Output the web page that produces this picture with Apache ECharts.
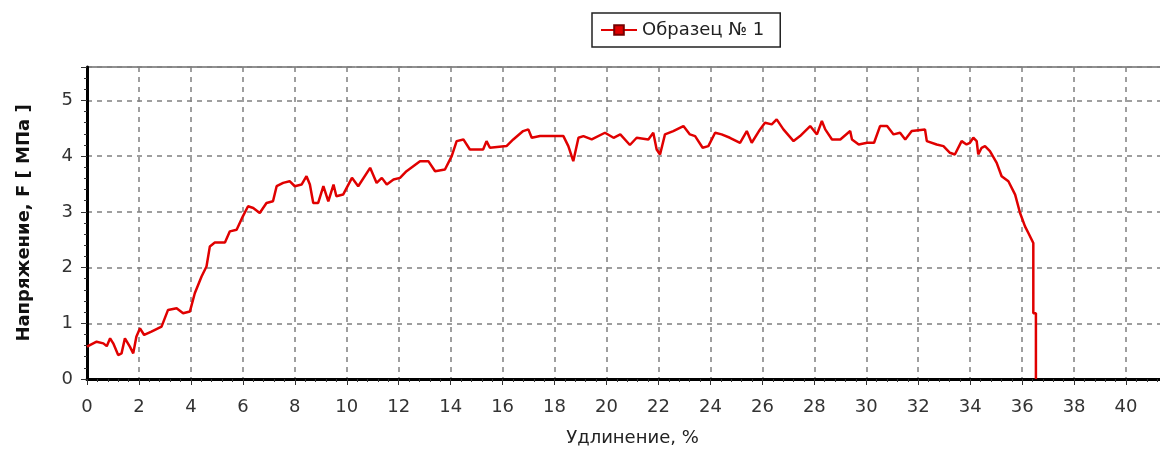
<!DOCTYPE html>
<html>
<head>
<meta charset="utf-8">
<script src="https://cdn.jsdelivr.net/npm/echarts@6/dist/echarts.min.js"></script>
<style>
  html, body { margin: 0; padding: 0; background: #fff; }
  #chart { width: 1160px; height: 461px; }
</style>
</head>
<body>
<div id="chart"></div>
<script>
// elongation, % (x) and stress, MPa (y)
const elongation = [
  0, 0.37, 0.63, 0.76, 0.89, 1.01, 1.2, 1.33, 1.46, 1.65, 1.78, 1.9, 2.04, 2.2, 2.48, 2.87,
  3.12, 3.45, 3.7, 3.96, 4.15, 4.41, 4.6, 4.73, 4.92, 5.31, 5.5, 5.76, 6.0, 6.2, 6.4, 6.65,
  6.91, 7.16, 7.3, 7.55, 7.8, 8.0, 8.26, 8.45, 8.58, 8.71, 8.9, 9.1, 9.29, 9.49, 9.6, 9.86,
  10.2, 10.44, 10.9, 11.15, 11.35, 11.54, 11.8, 12.05, 12.3, 12.56, 12.82, 13.14, 13.4, 13.78,
  14.04, 14.23, 14.49, 14.74, 15.25, 15.38, 15.51, 16.15, 16.41, 16.79, 16.99, 17.12, 17.44,
  18.34, 18.53, 18.72, 18.92, 19.11, 19.43, 19.94, 20.27, 20.53, 20.9, 21.16, 21.61, 21.8,
  21.93, 22.06, 22.25, 22.57, 22.96, 23.21, 23.41, 23.7, 23.92, 24.18, 24.43, 24.75, 25.14,
  25.4, 25.59, 25.91, 26.1, 26.36, 26.55, 26.81, 27.2, 27.45, 27.84, 28.1, 28.29, 28.42,
  28.68, 29.0, 29.38, 29.45, 29.71, 30.03, 30.3, 30.53, 30.8, 31.05, 31.3, 31.5, 31.75,
  32.26, 32.33, 32.71, 32.97, 33.22, 33.41, 33.67, 33.86, 33.99, 34.12, 34.25, 34.31, 34.44,
  34.57, 34.76, 35.02, 35.21, 35.47, 35.73, 35.92, 36.11, 36.24, 36.43, 36.43, 36.53, 36.53
]
const stress = [
  0.58, 0.67, 0.64, 0.59, 0.73, 0.64, 0.43, 0.46, 0.73, 0.58, 0.46, 0.76, 0.91, 0.79, 0.85, 0.94,
  1.24, 1.27, 1.18, 1.21, 1.54, 1.84, 2.02, 2.38, 2.45, 2.45, 2.65, 2.68, 2.92, 3.1, 3.07, 2.98,
  3.16, 3.19, 3.46, 3.52, 3.55, 3.46, 3.49, 3.64, 3.49, 3.16, 3.16, 3.46, 3.19, 3.49, 3.28, 3.31,
  3.61, 3.46, 3.79, 3.52, 3.61, 3.49, 3.58, 3.61, 3.73, 3.82, 3.91, 3.91, 3.73, 3.76,
  4.0, 4.27, 4.3, 4.12, 4.12, 4.27, 4.15, 4.18, 4.3, 4.45, 4.48, 4.33, 4.36,
  4.36, 4.18, 3.91, 4.33, 4.36, 4.3, 4.42, 4.33, 4.39, 4.2, 4.33, 4.3, 4.42,
  4.12, 4.03, 4.39, 4.45, 4.54, 4.39, 4.36, 4.15, 4.18, 4.42, 4.39, 4.33, 4.24,
  4.45, 4.24, 4.48, 4.6, 4.57, 4.66, 4.48, 4.27, 4.36, 4.54, 4.39, 4.63, 4.48,
  4.3, 4.3, 4.45, 4.3, 4.21, 4.24, 4.24, 4.54, 4.54, 4.39, 4.42, 4.3, 4.45,
  4.48, 4.27, 4.21, 4.18, 4.06, 4.03, 4.27, 4.21, 4.24, 4.33, 4.27, 4.03, 4.15,
  4.18, 4.09, 3.88, 3.64, 3.55, 3.31, 2.98, 2.74, 2.62, 2.44, 1.18, 1.18, 0
]
const seriesName = 'Образец № 1'
const xTitle = 'Удлинение, %'
const yTitle = 'Напряжение, F [ МПа ]'

const chart = echarts.init(document.getElementById('chart'))
const font = 'DejaVu Sans, Liberation Sans, sans-serif'
const gridLine = { show: true, lineStyle: { color: '#808080', type: [5, 5], width: 1.5 } }

chart.setOption({
  animation: false,
  textStyle: { fontFamily: font },
  legend: {
    top: 13,
    left: 592,
    padding: [8, 16, 8, 8],
    borderColor: '#222',
    borderWidth: 1.5,
    itemWidth: 36,
    itemHeight: 12,
    itemGap: 8,
    textStyle: { fontSize: 18, color: '#222', fontFamily: font },
    data: [seriesName]
  },
  // the plot runs past the right edge of the picture (x max 42 is cut off)
  grid: {
    left: 87, top: 67, bottom: 82, width: 1091,
    outerBoundsMode: 'none', containLabel: false,
    show: true, borderColor: '#222', borderWidth: 1
  },
  xAxis: {
    type: 'value',
    min: 0,
    max: 42,
    interval: 2,
    name: xTitle,
    nameLocation: 'middle',
    nameGap: 50,
    nameTextStyle: { fontSize: 18, color: '#222' },
    axisLine: { lineStyle: { color: '#000', width: 3 } },
    axisTick: { length: 6, lineStyle: { color: '#333', width: 1 } },
    minorTick: { show: true, splitNumber: 5, length: 3, lineStyle: { color: '#333' } },
    axisLabel: { fontSize: 18, color: '#333', margin: 19 },
    splitLine: gridLine
  },
  yAxis: {
    type: 'value',
    min: 0,
    max: 5.6,
    interval: 1,
    name: yTitle,
    nameLocation: 'middle',
    nameGap: 54,
    nameTextStyle: { fontSize: 18, fontWeight: 'bold', color: '#111' },
    axisLine: { show: true, lineStyle: { color: '#000', width: 3 } },
    axisTick: { show: true, length: 6, lineStyle: { color: '#333', width: 1 } },
    minorTick: { show: true, splitNumber: 5, length: 3, lineStyle: { color: '#333' } },
    axisLabel: { fontSize: 18, color: '#333', margin: 14, showMaxLabel: false },
    splitLine: gridLine
  },
  series: [{
    name: seriesName,
    type: 'line',
    data: elongation.map((x, i) => [x, stress[i]]),
    symbol: 'rect',
    symbolSize: [14, 10],
    showSymbol: false,
    color: '#e00000',
    itemStyle: { color: '#e00000', borderColor: '#700', borderWidth: 1 },
    lineStyle: { color: '#e00000', width: 2.5 }
  }]
})
</script>
</body>
</html>
